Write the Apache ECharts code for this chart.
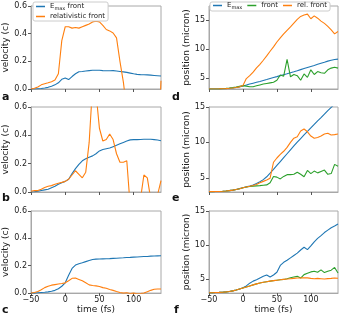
<!DOCTYPE html>
<html><head><meta charset="utf-8">
<script src="https://cdn.jsdelivr.net/npm/echarts@6/dist/echarts.min.js"></script>
<style>html,body{margin:0;padding:0;background:#fff}#c{width:342px;height:315px}</style>
</head><body><div id="c"></div>
<script>
// time axis (fs)
const time = [-50,-45,-40,-35,-30,-25,-20,-15,-10,-5,0,5,10,15,20,25,30,35,40,45,50,55,60,65,70,75,80,85,90,95,100,105,110,115,120,125,130,135,140];
const xTicks = [-50,0,50,100];
const velTicks = [0,0.2,0.4,0.6];
const posTicks = [5,10,15];

// panel a: velocity (c)
const velEmaxA = [0,0,0.002,0.004,0.007,0.012,0.02,0.03,0.045,0.07,0.08,0.068,0.09,0.11,0.125,0.127,0.13,0.133,0.135,0.136,0.135,0.133,0.132,0.132,0.133,0.13,0.127,0.124,0.12,0.115,0.11,0.106,0.104,0.103,0.102,0.1,0.098,0.096,0.094];
const velRelA = [0,0.005,0.015,0.03,0.038,0.045,0.053,0.065,0.11,0.35,0.45,0.45,0.44,0.445,0.44,0.45,0.46,0.47,0.485,0.49,0.485,0.46,0.43,0.42,0.405,0.37,0.2,0.05,-0.15,-0.5,-0.5,-0.5,-0.5,-0.5,-0.5,-0.5,-0.5,-0.5,0.06];
// panel b
const velEmaxB = [0,0.002,0.005,0.01,0.015,0.02,0.03,0.04,0.055,0.065,0.075,0.09,0.13,0.165,0.195,0.22,0.235,0.245,0.255,0.27,0.29,0.3,0.305,0.31,0.32,0.33,0.34,0.35,0.36,0.368,0.37,0.37,0.371,0.372,0.372,0.372,0.37,0.367,0.362];
const velRelB = [0.005,0.01,0.01,0.02,0.032,0.04,0.045,0.055,0.062,0.068,0.075,0.09,0.12,0.15,0.125,0.1,0.14,0.35,0.75,0.7,0.45,0.36,0.37,0.41,0.37,0.27,0.21,0.21,0.22,-0.1,-0.3,-0.3,-0.05,0.12,0.1,-0.05,-0.2,-0.02,0.08];
// panel c
const velEmaxC = [0,0,0.002,0.004,0.006,0.009,0.014,0.02,0.032,0.05,0.075,0.13,0.18,0.205,0.215,0.222,0.23,0.238,0.245,0.248,0.249,0.25,0.251,0.252,0.254,0.255,0.257,0.258,0.26,0.261,0.263,0.264,0.266,0.267,0.268,0.27,0.271,0.272,0.273];
const velRelC = [0,0.005,0.012,0.025,0.04,0.05,0.058,0.062,0.066,0.07,0.075,0.09,0.108,0.11,0.1,0.09,0.075,0.06,0.055,0.053,0.048,0.04,0.035,0.027,0.02,0.012,0.005,0,0.002,-0.003,0,-0.005,-0.003,0,0.01,0.02,0.028,0.03,0.03];

// panel d: position (micron)
const posEmaxD = [3.1,3.1,3.11,3.12,3.14,3.17,3.22,3.28,3.36,3.47,3.62,3.78,3.95,4.1,4.25,4.4,4.57,4.73,4.9,5.07,5.23,5.4,5.56,5.72,5.9,6.07,6.25,6.44,6.62,6.8,6.98,7.15,7.35,7.55,7.72,7.9,8.05,8.17,8.25];
const posFrontD = [3.1,3.1,3.11,3.13,3.16,3.2,3.26,3.33,3.42,3.55,3.68,3.6,3.48,3.5,3.65,3.8,3.95,4.05,4.15,4.25,4.6,5.5,5.3,8.2,5.2,5.6,5.4,4.6,5.7,5.1,6.4,5.6,6.1,5.9,5.8,6.4,6.7,6.85,6.7];
const posRelD = [3.1,3.1,3.11,3.12,3.14,3.17,3.22,3.28,3.36,3.47,3.7,4.9,5.4,6.0,6.75,7.35,8.05,8.8,9.6,10.35,11.2,11.9,12.6,13.2,13.8,14.45,15.1,15.6,15.85,16.0,15.2,15.7,15.3,14.8,14.4,13.9,13.3,12.6,13.0];
// panel e
const posEmaxE = [3.05,3.05,3.06,3.08,3.1,3.14,3.2,3.27,3.36,3.48,3.6,3.72,3.85,4.0,4.2,4.45,4.75,5.15,5.65,6.2,6.75,7.3,7.85,8.4,8.95,9.5,10.05,10.55,11.05,11.55,12.05,12.55,13.05,13.5,14.0,14.5,14.95,15.4,15.9];
const posFrontE = [3.05,3.05,3.06,3.08,3.1,3.14,3.2,3.27,3.36,3.47,3.6,3.7,3.78,3.83,3.87,3.9,3.95,4.0,4.3,5.2,5.1,4.85,5.2,5.45,5.45,5.5,5.8,5.5,5.15,6.05,5.6,5.95,5.7,5.9,6.1,5.5,5.6,6.9,6.65];
const posRelE = [3.05,3.05,3.06,3.08,3.1,3.14,3.2,3.27,3.36,3.47,3.6,3.7,3.8,3.92,4.05,4.3,4.5,4.7,4.95,7.2,7.8,8.3,8.75,9.3,10.0,10.6,10.8,11.6,11.9,11.5,10.9,10.6,10.7,10.9,11.2,11.3,11.05,11.1,11.2];
// panel f
const posEmaxF = [3.05,3.06,3.08,3.1,3.13,3.18,3.24,3.33,3.45,3.6,3.78,4.05,4.45,4.75,4.95,5.2,5.45,5.65,5.35,5.65,6.05,7.05,7.5,7.8,8.15,8.5,8.85,9.3,9.7,9.35,9.9,10.5,11.0,11.4,11.85,12.2,12.55,12.8,13.1];
const posFrontF = [3.05,3.06,3.08,3.1,3.13,3.18,3.24,3.33,3.45,3.6,3.76,3.9,4.05,4.2,4.35,4.48,4.58,4.67,4.75,4.82,4.88,4.94,5.0,5.1,5.25,5.35,5.45,5.2,5.7,5.9,6.1,6.2,6.05,6.4,6.0,6.2,6.35,6.75,5.95];
const posRelF = [3.05,3.06,3.08,3.1,3.13,3.18,3.24,3.33,3.45,3.6,3.75,3.9,4.05,4.2,4.35,4.48,4.58,4.67,4.75,4.82,4.88,4.94,5.0,5.05,5.1,5.15,5.2,5.22,5.25,5.22,5.15,5.1,5.15,5.1,5.05,5.12,5.15,5.2,5.18];

const BLUE='#1f77b4', ORANGE='#ff7f0e', GREEN='#2ca02c';
const FONT='DejaVu Sans';
const FRAME='#a8a8a8';
const pairs = v => time.map((t,i)=>[t,v[i]]);

const grids = [
  {left:31, top:6, width:130, height:83},
  {left:31, top:107, width:130, height:85},
  {left:31, top:211, width:130, height:83},
  {left:209, top:6, width:129, height:83},
  {left:209, top:107, width:129, height:85},
  {left:209, top:211, width:129, height:83}
].map(g=>Object.assign({show:true, borderColor:FRAME, borderWidth:1, backgroundColor:'transparent'}, g));

const minus = v => (v<0 ? '\u2212'+Math.abs(v) : String(v));
const xAxes = grids.map((g,i)=>({
  type:'value', gridIndex:i, min:-50, max:140, interval:50,
  splitLine:{show:false},
  axisLine:{show:true, onZero:false, lineStyle:{color:FRAME}},
  axisTick:{show:true, inside:false, length:3, customValues:xTicks, lineStyle:{color:'#555'}},
  axisLabel:{show:(i===2||i===5), customValues:xTicks, formatter:minus, fontSize:8, color:'#222', fontFamily:FONT, margin:3},
  name:(i===2||i===5)?'time (fs)':'', nameLocation:'middle', nameGap:11,
  nameTextStyle:{fontSize:9, color:'#222', fontFamily:FONT}
}));
const posRange = [[3.1,17.4],[3,15],[3,15]];
const yAxes = grids.map((g,i)=>{
  const vel = i<3;
  const r = vel ? [0,0.6] : posRange[i-3];
  return {
    type:'value', gridIndex:i, min:r[0], max:r[1],
    splitLine:{show:false},
    axisLine:{show:true, onZero:false, lineStyle:{color:FRAME}},
    axisTick:{show:true, inside:false, length:3, customValues: vel?velTicks:posTicks, lineStyle:{color:'#555'}},
    axisLabel:{customValues: vel?velTicks:posTicks, formatter: v=> vel? v.toFixed(1): String(v), fontSize:8, color:'#222', fontFamily:FONT, margin:4},
    name: vel?'velocity (c)':'position (micron)', nameLocation:'middle', nameRotate:90,
    nameGap: vel?19:14,
    nameTextStyle:{fontSize:9, color:'#222', fontFamily:FONT}
  };
});

function ser(name, data, color, idx){
  return {type:'line', name:name, xAxisIndex:idx, yAxisIndex:idx, data:pairs(data),
    symbol:'none', showSymbol:false, clip:true, lineStyle:{color:color, width:1.1}, itemStyle:{color:color}};
}
const series = [
  ser('Emax front', velEmaxA, BLUE, 0), ser('relativistic front', velRelA, ORANGE, 0),
  ser('Emax front', velEmaxB, BLUE, 1), ser('relativistic front', velRelB, ORANGE, 1),
  ser('Emax front', velEmaxC, BLUE, 2), ser('relativistic front', velRelC, ORANGE, 2),
  ser('Emax', posEmaxD, BLUE, 3), ser('front', posFrontD, GREEN, 3), ser('rel. front', posRelD, ORANGE, 3),
  ser('Emax', posEmaxE, BLUE, 4), ser('front', posFrontE, GREEN, 4), ser('rel. front', posRelE, ORANGE, 4),
  ser('Emax', posEmaxF, BLUE, 5), ser('front', posFrontF, GREEN, 5), ser('rel. front', posRelF, ORANGE, 5)
];

const rich = {n:{fontSize:7, fontFamily:FONT, color:'#222'}, s:{fontSize:5, fontFamily:FONT, color:'#222', padding:[4,0,0,0]}};
const fmt = name => name==='Emax front' ? '{n|E}{s|max}{n| front}' : (name==='Emax' ? '{n|E}{s|max}' : '{n|'+name+'}');
const legendBase = {icon:'rect', itemWidth:9, itemHeight:1.5, backgroundColor:'#fff', borderColor:'#ccc', borderWidth:1, borderRadius:2,
  formatter:fmt, textStyle:{fontSize:7, fontFamily:FONT, color:'#222', rich:rich}, selectedMode:false};
const legends = [
  Object.assign({}, legendBase, {left:33, top:2, orient:'vertical', itemGap:2, padding:[1,3,1,3], data:['Emax front','relativistic front']}),
  Object.assign({}, legendBase, {left:210, top:2, width:132, orient:'horizontal', itemGap:5, padding:[0,3,1,3], data:['Emax','front','rel. front']})
];

const letters = [['a',2,98],['b',2,199],['c',2,311],['d',172,98],['e',172,199],['f',174,311]];
const graphic = letters.map(l=>({type:'text', left:l[1], top:l[2]-6, style:{text:l[0], font:'bold 11px "DejaVu Sans"', fill:'#111'}}));

const chart = echarts.init(document.getElementById('c'), null, {renderer:'canvas'});
chart.setOption({animation:false, backgroundColor:'#fff', grid:grids, xAxis:xAxes, yAxis:yAxes, series:series, legend:legends, graphic:graphic});
</script></body></html>
